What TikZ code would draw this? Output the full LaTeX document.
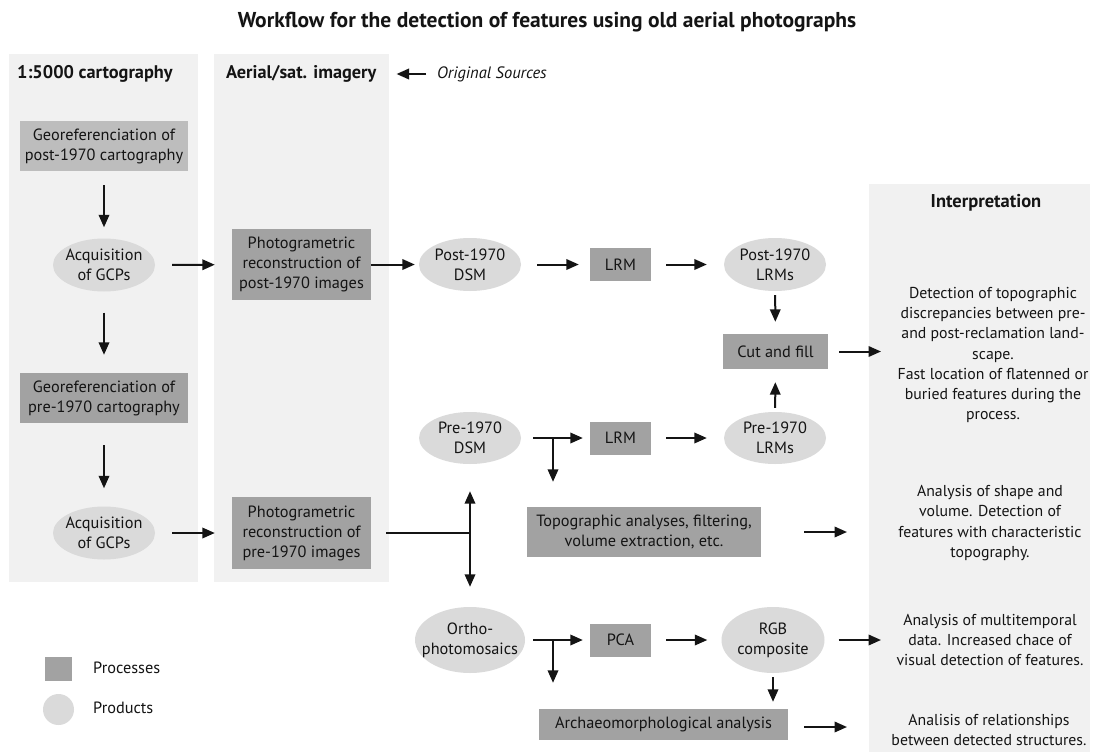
\documentclass[tikz,border=0pt]{standalone}
\usepackage{fontspec}
\setmainfont{PT Sans}
\usetikzlibrary{shapes.geometric,arrows.meta}
\definecolor{panelgray}{RGB}{241,241,241}
\definecolor{procgray}{RGB}{162,162,162}
\definecolor{geolight}{RGB}{189,189,189}
\definecolor{prodgray}{RGB}{218,218,218}
\definecolor{ink}{RGB}{20,20,20}
\begin{document}
\begin{tikzpicture}[x=1pt,y=-1pt,
  every node/.style={text=ink},
  font=\fontsize{16.3}{20}\selectfont,
  proc/.style={rectangle,fill=procgray,align=center,inner sep=0pt},
  prod/.style={ellipse,fill=prodgray,inner sep=0pt},
  lbl/.style={align=center,inner sep=0pt},
  arr/.style={line width=2pt,draw=ink,-{Triangle[length=12.5pt,width=10.5pt]}},
  plain/.style={line width=2pt,draw=ink},
  hdr/.style={font=\fontsize{18.3}{20}\selectfont\bfseries,anchor=west,inner sep=0pt},
  itext/.style={align=center,inner sep=0pt,font=\fontsize{15.8}{20.3}\selectfont}]
\useasboundingbox (0,0) rectangle (1094,752);
\fill[white] (0,0) rectangle (1094,752);
% panels
\fill[panelgray] (8.6,54) rectangle (197.5,582);
\fill[panelgray] (214,54) rectangle (389,582);
\fill[panelgray] (869,184) rectangle (1090,752);
% title and headers
\node[font=\fontsize{21.5}{24}\selectfont\bfseries] (title) at (547,22) {Workflow for the detection of features using old aerial photographs};
\node[hdr] (h1) at (17,74) {1:5000 cartography};
\node[hdr] (h2) at (226,74) {Aerial/sat. imagery};
\node[anchor=west,inner sep=0pt,font=\fontsize{16.5}{20}\selectfont\itshape] (orig) at (437,74) {Original Sources};
\node[font=\fontsize{18.5}{20}\selectfont\bfseries] (h3) at (986,203) {Interpretation};
% left column
\node[proc,fill=geolight,minimum width=168,minimum height=50] (geopost) at (104,146) {Georeferenciation of\\post-1970 cartography};
\node[prod,minimum width=102,minimum height=53,label={[lbl]center:Acquisition\\of GCPs}] (acq1) at (104,265) {};
\node[proc,minimum width=168,minimum height=50] (geopre) at (104,398) {Georeferenciation of\\pre-1970 cartography};
\node[prod,minimum width=102,minimum height=53,label={[lbl]center:Acquisition\\of GCPs}] (acq2) at (104,533) {};
% middle column
\node[proc,minimum width=139,minimum height=71] (photo1) at (301.5,264.5) {Photogrametric\\reconstruction of\\post-1970 images};
\node[proc,minimum width=139,minimum height=72] (photo2) at (301.5,533) {Photogrametric\\reconstruction of\\pre-1970 images};
% products and processes
\node[prod,minimum width=102,minimum height=53,label={[lbl]center:Post-1970\\DSM}] (postdsm) at (470,264.5) {};
\node[prod,minimum width=102,minimum height=52,label={[lbl]center:Pre-1970\\DSM}] (predsm) at (470,438) {};
\node[prod,minimum width=110,minimum height=66,label={[lbl]center:Ortho-\\photomosaics}] (ortho) at (470,640) {};
\node[proc,minimum width=61,minimum height=33] (lrm1) at (620.5,264.5) {LRM};
\node[proc,minimum width=61,minimum height=33] (lrm2) at (620.5,438) {LRM};
\node[proc,minimum width=61,minimum height=33] (pca) at (620.5,640) {PCA};
\node[prod,minimum width=102,minimum height=53,label={[lbl]center:Post-1970\\LRMs}] (postlrms) at (775,264.5) {};
\node[prod,minimum width=102,minimum height=52,label={[lbl]center:Pre-1970\\LRMs}] (prelrms) at (775,438) {};
\node[proc,minimum width=105,minimum height=35] (cutfill) at (775.5,351.5) {Cut and fill};
\node[proc,minimum width=234,minimum height=50] (topo) at (644,532) {Topographic analyses, filtering,\\volume extraction, etc.};
\node[prod,minimum width=103,minimum height=66,label={[lbl]center:RGB\\composite}] (rgb) at (773,640) {};
\node[proc,minimum width=249,minimum height=31] (archaeo) at (663.5,724.5) {Archaeomorphological analysis};
% interpretation texts
\node[itext] (i1) at (993,355) {Detection of topographic\\discrepancies between pre-\\and post-reclamation land-\\scape.\\Fast location of flatenned or\\buried features during the\\process.};
\node[itext] (i2) at (990,523) {Analysis of shape and\\volume. Detection of\\features with characteristic\\topography.};
\node[itext] (i3) at (990,640) {Analysis of multitemporal\\data. Increased chace of\\visual detection of features.};
\node[itext] (i4) at (989,730) {Analisis of relationships\\between detected structures.};
% legend
\node[fill=procgray,minimum width=27,minimum height=24,inner sep=0pt] (lgp) at (58.5,669) {};
\node[anchor=west,inner sep=0pt] (lgpt) at (93,668) {Processes};
\node[circle,fill=prodgray,minimum size=31,inner sep=0pt] (lgc) at (58.5,709.5) {};
\node[anchor=west,inner sep=0pt] (lgct) at (93,708) {Products};
% free ends and junctions
\coordinate (e1) at (881,351.5);
\coordinate (e2) at (847,532);
\coordinate (e3) at (881,640);
\coordinate (e4) at (847,727);
\coordinate (j) at (470,533);
\coordinate (b1) at (553,438);
\coordinate (b2) at (553,640);
% connectors
\draw[arr,shorten <=11pt,shorten >=20pt] (orig.west) -- (h2.east);
\draw[arr,shorten <=14pt,shorten >=11pt] (geopost) -- (acq1);
\draw[arr,shorten <=21pt,shorten >=18pt] (acq1) -- (geopre);
\draw[arr,shorten <=22pt,shorten >=18pt] (geopre) -- (acq2);
\draw[arr,shorten <=17pt,shorten >=17pt] (acq1) -- (photo1);
\draw[arr,shorten <=17pt,shorten >=17pt] (acq2) -- (photo2);
\draw[arr,shorten >=4pt] (photo1) -- (postdsm);
\draw[arr,shorten <=16pt,shorten >=11pt] (postdsm) -- (lrm1);
\draw[arr,shorten <=15pt,shorten >=17pt] (lrm1) -- (postlrms);
\draw[arr,shorten <=4pt,shorten >=12pt] (postlrms) -- (cutfill);
\draw[arr,shorten <=4pt,shorten >=13pt] (prelrms) -- (cutfill);
\draw[arr,shorten <=11pt] (cutfill.east) -- (e1);
\draw[plain,shorten <=15pt] (photo2.east) -- (j);
\draw[arr,shorten >=27pt] (j) -- (predsm.south);
\draw[arr,shorten >=20pt] (j) -- (ortho.north);
\draw[arr,shorten <=12pt,shorten >=7pt] (predsm.east) -- (lrm2.west);
\draw[arr,shorten >=25pt] (b1) -- (b1 |- topo.north);
\draw[arr,shorten <=15pt,shorten >=17pt] (lrm2) -- (prelrms);
\draw[arr,shorten <=43pt] (topo.east) -- (e2);
\draw[arr,shorten <=8pt,shorten >=7pt] (ortho.east) -- (pca.west);
\draw[arr,shorten >=26pt] (b2) -- (b2 |- archaeo.north);
\draw[arr,shorten <=15pt,shorten >=14pt] (pca) -- (rgb);
\draw[arr,shorten <=14pt] (rgb.east) -- (e3);
\draw[arr,shorten <=4pt,shorten >=7pt] (rgb.south) -- (rgb.south |- archaeo.north);
\draw[arr,shorten <=16pt] (archaeo.east |- e4) -- (e4);
\end{tikzpicture}
\end{document}
